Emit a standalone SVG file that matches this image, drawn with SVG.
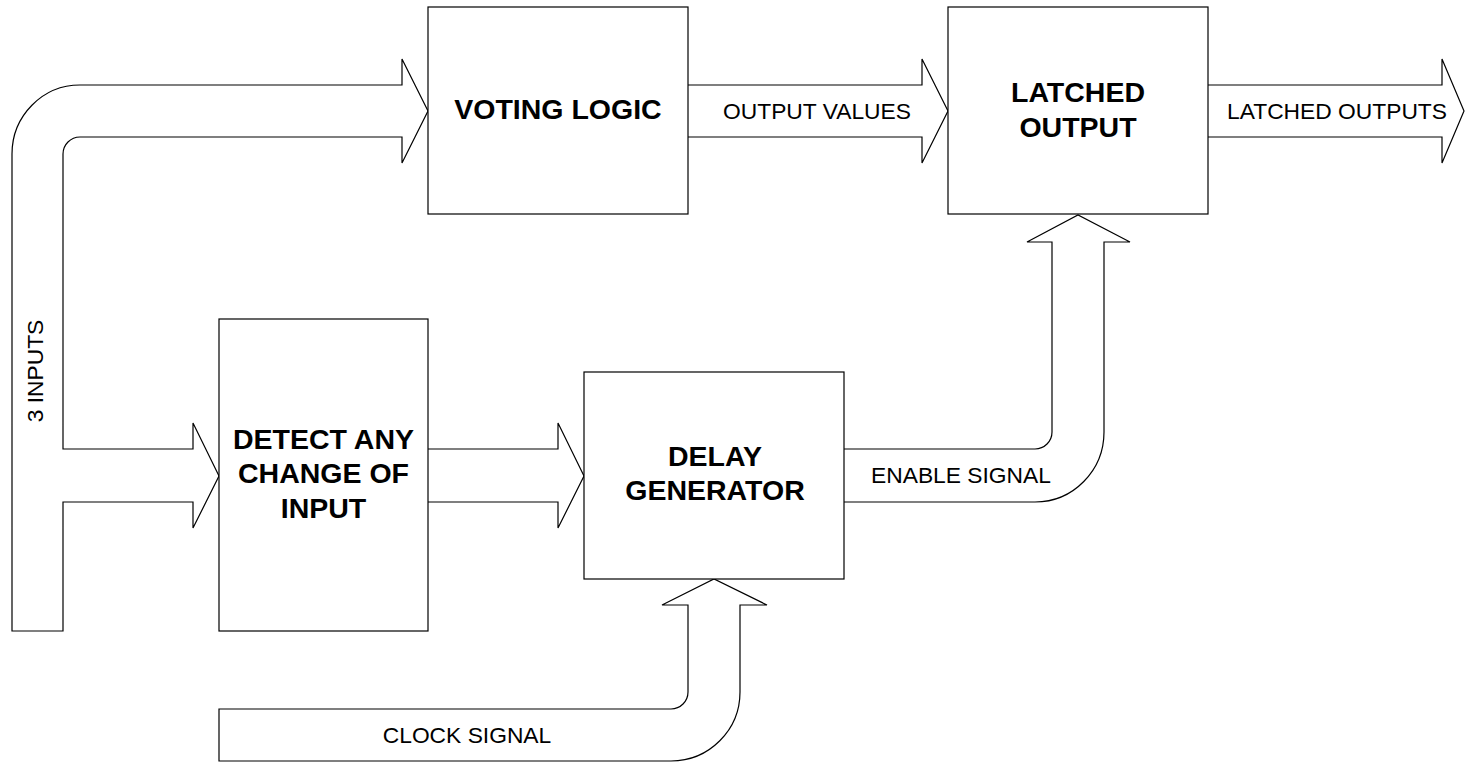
<svg xmlns="http://www.w3.org/2000/svg" width="1465" height="763" viewBox="0 0 1465 763">
<style>
.box{fill:#fff;stroke:#000;stroke-width:1.2}
.arr{fill:#fff;stroke:#000;stroke-width:1.2;stroke-linejoin:miter}
.lbl{font-family:"Liberation Sans",Arial,sans-serif;font-size:22.8px;fill:#000;text-anchor:middle}
.ttl{font-family:"Liberation Sans",Arial,sans-serif;font-size:28.5px;font-weight:bold;fill:#000;text-anchor:middle}
</style>
<rect width="1465" height="763" fill="#fff"/>
<g id="connectors">
  <g id="inputs-arrow">
    <path class="arr" d="M12,631 L12,154 A68,69 0 0 1 80,85 L402,85 L402,59 L428,111 L402,163 L402,137 L80,137 A17,17 0 0 0 63,154 L63,449 L193,449 L193,423 L219,476 L193,528 L193,502 L63,502 L63,631 Z"/>
    <text class="lbl" transform="translate(43,371) rotate(-90)">3 INPUTS</text>
  </g>
  <g id="change-arrow">
    <path class="arr" d="M428,449 L558,449 L558,423 L584,476 L558,528 L558,502 L428,502"/>
  </g>
  <g id="output-values-arrow">
    <path class="arr" d="M688,85 L922,85 L922,59 L948,111 L922,163 L922,137 L688,137"/>
    <text class="lbl" x="817" y="119">OUTPUT VALUES</text>
  </g>
  <g id="latched-outputs-arrow">
    <path class="arr" d="M1208,85 L1442,85 L1442,59 L1464,111 L1442,163 L1442,137 L1208,137"/>
    <text class="lbl" x="1337" y="119">LATCHED OUTPUTS</text>
  </g>
  <g id="enable-arrow">
    <path class="arr" d="M844,449 L1035,449 A17,17 0 0 0 1052,432 L1052,242 L1027,242 L1078,215 L1130,242 L1104,242 L1104,432 A69,70 0 0 1 1035,502 L844,502"/>
    <text class="lbl" x="961" y="483">ENABLE SIGNAL</text>
  </g>
  <g id="clock-arrow">
    <path class="arr" d="M219,761 L219,709 L671,709 A17,17 0 0 0 688,692 L688,605 L662,605 L714,579 L767,605 L740,605 L740,692 A69,69 0 0 1 671,761 Z"/>
    <text class="lbl" x="467" y="743">CLOCK SIGNAL</text>
  </g>
</g>
<g id="voting-logic">
  <rect class="box" x="428" y="7" width="260" height="207"/>
  <text class="ttl" x="558" y="119">VOTING LOGIC</text>
</g>
<g id="latched-output">
  <rect class="box" x="948" y="7" width="260" height="207"/>
  <text class="ttl" x="1078" y="102">LATCHED</text>
  <text class="ttl" x="1078" y="137">OUTPUT</text>
</g>
<g id="detect-change">
  <rect class="box" x="219" y="319" width="209" height="312"/>
  <text class="ttl" x="323.5" y="449">DETECT ANY</text>
  <text class="ttl" x="323.5" y="483">CHANGE OF</text>
  <text class="ttl" x="323.5" y="518">INPUT</text>
</g>
<g id="delay-generator">
  <rect class="box" x="584" y="372" width="260" height="207"/>
  <text class="ttl" x="715" y="466">DELAY</text>
  <text class="ttl" x="715" y="500">GENERATOR</text>
</g>
</svg>
